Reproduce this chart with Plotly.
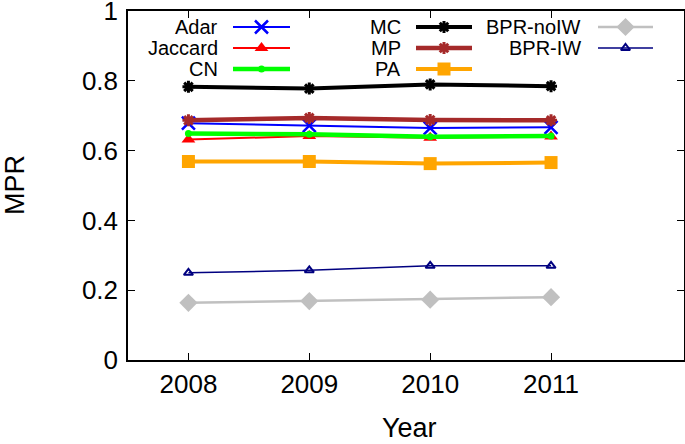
import plotly.graph_objects as go

years = [2008, 2009, 2010, 2011]
adar = [0.679, 0.672, 0.665, 0.667]
jaccard = [0.632, 0.642, 0.637, 0.641]
cn = [0.649, 0.647, 0.640, 0.642]
mc = [0.783, 0.778, 0.790, 0.785]
mp = [0.687, 0.694, 0.688, 0.687]
pa = [0.569, 0.569, 0.563, 0.566]
bpr_noiw = [0.164, 0.169, 0.173, 0.180]
bpr_iw = [0.250, 0.257, 0.270, 0.270]

y_ticks = [0, 0.2, 0.4, 0.6, 0.8, 1]
y_tick_labels = ["0", "0.2", "0.4", "0.6", "0.8", "1"]

series = [
    ("Adar", adar, dict(color="#0000ff", width=2), dict(symbol="x-thin-open", size=13, color="#0000ff", line=dict(color="#0000ff", width=2.5))),
    ("Jaccard", jaccard, dict(color="#ff0000", width=2), dict(symbol="triangle-up", size=12, color="#ff0000")),
    ("CN", cn, dict(color="#00ff00", width=4.5), dict(symbol="circle", size=7, color="#00ff00")),
    ("MC", mc, dict(color="#000000", width=4), dict(symbol="asterisk-open", size=10, color="#000000", line=dict(color="#000000", width=3))),
    ("MP", mp, dict(color="#a52a2a", width=4.5), dict(symbol="asterisk-open", size=10, color="#a52a2a", line=dict(color="#a52a2a", width=3))),
    ("PA", pa, dict(color="#ffa500", width=4), dict(symbol="square", size=13, color="#ffa500")),
    ("BPR-noIW", bpr_noiw, dict(color="#c0c0c0", width=2.5), dict(symbol="diamond", size=14, color="#c0c0c0")),
    ("BPR-IW", bpr_iw, dict(color="#000080", width=1.5), dict(symbol="triangle-up-open", size=8, color="#000080", line=dict(color="#000080", width=2))),
]

fig = go.Figure()
for name, vals, line, marker in series:
    fig.add_trace(go.Scatter(x=years, y=vals, mode="lines+markers", name=name,
                             line=line, marker=marker, showlegend=False))

# custom gnuplot-style legend on an overlay pixel axis
leg_cols = [(220, 233, 290), (403, 416, 472), (583, 598, 653)]
leg_rows = [27, 48, 69]
positions = [(0, 0), (0, 1), (0, 2), (1, 0), (1, 1), (1, 2), (2, 0), (2, 1)]
annotations = []
for (name, vals, line, marker), (c, r) in zip(series, positions):
    tx, x0, x1 = leg_cols[c]
    yy = leg_rows[r]
    fig.add_trace(go.Scatter(x=[x0, x1], y=[yy, yy], mode="lines", line=line,
                             xaxis="x2", yaxis="y2", showlegend=False, hoverinfo="skip"))
    fig.add_trace(go.Scatter(x=[(x0 + x1) / 2], y=[yy], mode="markers", marker=marker,
                             xaxis="x2", yaxis="y2", showlegend=False, hoverinfo="skip"))
    annotations.append(dict(x=tx, y=yy, xref="x2", yref="y2", text=name, showarrow=False,
                            xanchor="right", yanchor="middle",
                            font=dict(size=20, color="black", family="Liberation Sans")))

# axis titles in paper coords (plot area: x 128..684, y 11..360 px)
annotations.append(dict(x=(409 - 128) / 556, y=(360 - 428) / 349, xref="paper", yref="paper",
                        text="Year", showarrow=False, xanchor="center", yanchor="middle",
                        font=dict(size=27)))
annotations.append(dict(x=(15 - 128) / 556, y=(360 - 185) / 349, xref="paper", yref="paper",
                        text="MPR", showarrow=False, textangle=-90, xanchor="center",
                        yanchor="middle", font=dict(size=27)))

fig.update_layout(
    width=685, height=444,
    margin=dict(l=128, r=1, t=11, b=84, autoexpand=False),
    paper_bgcolor="white", plot_bgcolor="white",
    font=dict(family="Liberation Sans", color="black", size=26),
    annotations=annotations,
    xaxis=dict(range=[2007.5, 2012.1], tickvals=years, ticktext=[str(y) for y in years],
               ticks="inside", ticklen=7, tickcolor="black", showline=True, linecolor="black",
               linewidth=1.5, mirror="ticks", showgrid=False, zeroline=False,
               tickfont=dict(size=26), automargin=False, ticklabeloverflow="allow"),
    yaxis=dict(range=[0, 1.0005], tickvals=y_ticks, ticktext=y_tick_labels,
               ticks="inside", ticklen=7, tickcolor="black", showline=True, linecolor="black",
               linewidth=1.5, mirror="ticks", showgrid=False, zeroline=False,
               tickfont=dict(size=26), automargin=False, ticklabeloverflow="allow",
               ticklabelstandoff=3),
    xaxis2=dict(range=[128, 684], overlaying="x", visible=False, fixedrange=True),
    yaxis2=dict(range=[360, 11], overlaying="y", visible=False, fixedrange=True),
)

fig.write_html("out.html", config={"displayModeBar": False},
               post_script="document.body.style.margin='0';")
